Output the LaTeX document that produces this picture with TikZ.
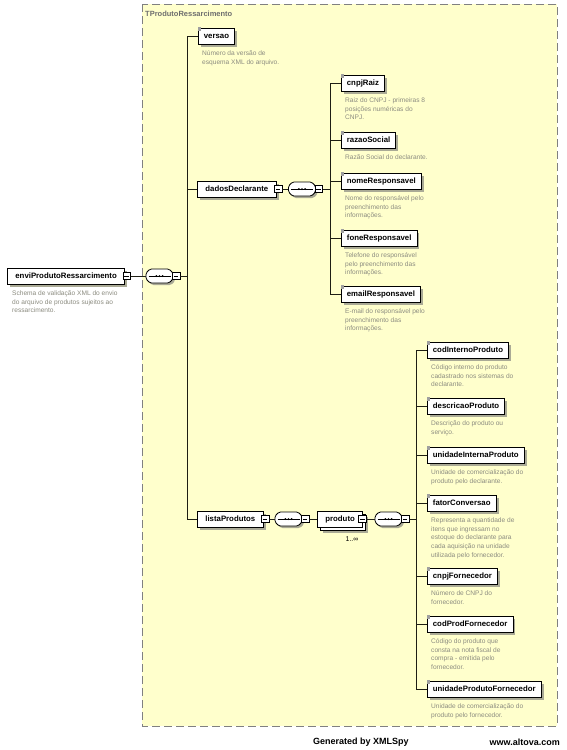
\documentclass[tikz,border=0pt]{standalone}
\usepackage{fontspec}
\setmainfont{Liberation Sans}
\usetikzlibrary{shadows}
\definecolor{bgyellow}{RGB}{255,255,204}
\definecolor{dashgray}{RGB}{128,128,128}
\definecolor{desccol}{RGB}{140,140,128}
\definecolor{titlecol}{RGB}{110,110,110}
\definecolor{shadowcol}{RGB}{170,170,150}
\definecolor{linecol}{RGB}{30,30,20}
\tikzset{
  elem/.style={draw=black, line width=0.8pt, fill=white, rectangle, anchor=west,
    minimum height=16pt, inner xsep=5.5pt, inner ysep=0pt,
    font=\fontsize{7.8}{9}\selectfont\bfseries,
    drop shadow={shadow xshift=2.5pt, shadow yshift=-2.5pt, fill=shadowcol, opacity=1}},
  parent/.style={elem, inner xsep=8pt},
  multi/.style={draw=black, line width=0.8pt, fill=white, rectangle, anchor=west,
    minimum height=16pt, inner xsep=8pt, inner ysep=0pt,
    font=\fontsize{7.8}{9}\selectfont\bfseries,
    drop shadow={shadow xshift=5.5pt, shadow yshift=-5.5pt, fill=shadowcol, opacity=1},
    copy shadow={shadow xshift=3pt, shadow yshift=-3pt}},
  desc/.style={anchor=north west, inner sep=0pt, align=left, text=desccol,
    font=\fontsize{6.6}{8.7}\selectfont},
  minusbox/.style={draw=black, line width=0.6pt, fill=white, rectangle,
    minimum size=7.5pt, inner sep=0pt,
    path picture={\draw[line width=0.6pt] ([xshift=1.5pt]path picture bounding box.west) -- ([xshift=-1.5pt]path picture bounding box.east);}},
  seqbox/.style={rectangle, minimum width=27pt, minimum height=14pt, inner sep=0pt},
  conn/.style={draw=linecol, line width=0.8pt},
}
\begin{document}
\begin{tikzpicture}[x=1pt,y=-1pt]
\useasboundingbox[fill=white] (0,0) rectangle (567,750);
% container
\draw[dash pattern=on 8pt off 4pt, draw=dashgray, fill=bgyellow, line width=0.8pt] (142,4) rectangle (557,726);
\node[anchor=west, font=\fontsize{7.5}{9}\selectfont\bfseries, text=titlecol, inner sep=0pt] (title) at (145,14) {TProdutoRessarcimento};

% root
\node[parent] (envi) at (7,276) {enviProdutoRessarcimento};
\node[minusbox] (me) at ([xshift=1.5pt]envi.east) {};
\node[desc] (denvi) at ([shift={(5,14.5)}]envi.west) {Schema de validação XML do envio\\do arquivo de produtos sujeitos ao\\ressarcimento.};
\node[seqbox] (s1) at (159.5,276) {};
\coordinate (b1) at (187,276);

% level 1
\node[elem] (versao) at (198,36) {versao};
\node[desc] (dversao) at ([shift={(4,14.5)}]versao.west) {Número da versão de\\esquema XML do arquivo.};
\node[parent] (dados) at (197,189) {dadosDeclarante};
\node[minusbox] (md) at ([xshift=1.5pt]dados.east) {};
\node[seqbox] (s2) at (302,189) {};
\coordinate (b2) at (330,189);
\node[parent] (lista) at (197,519) {listaProdutos};
\node[minusbox] (ml) at ([xshift=1.5pt]lista.east) {};
\node[seqbox] (s3) at (288.5,519) {};
\node[multi] (produto) at (317,519) {produto};
\node[minusbox] (mp) at ([xshift=-1pt]produto.east) {};
\node[font=\fontsize{7}{8}\selectfont, inner sep=0pt] (mult) at (352,539) {1..∞};
\node[seqbox] (s4) at (388.5,519) {};
\coordinate (b3) at (416,519);

% sequence compositor glyphs (octagon, line, dots)
\foreach \s in {s1,s2,s3,s4}{
  \begin{scope}[shift={(\s.center)}]
    \fill[shadowcol, rounded corners=1.5pt] (-11.5,-1) -- (-7.5,-5) -- (11.5,-5) -- (15.5,-1) -- (15.5,5) -- (11.5,9) -- (-7.5,9) -- (-11.5,5) -- cycle;
    \draw[line width=0.8pt, fill=white, rounded corners=1.5pt] (-13.5,-3) -- (-9.5,-7) -- (9.5,-7) -- (13.5,-3) -- (13.5,3) -- (9.5,7) -- (-9.5,7) -- (-13.5,3) -- cycle;
    \draw[line width=0.8pt] (-11,0) -- (11,0);
    \foreach \d in {-3.2,0,3.2} \fill (\d,0) circle (1pt);
  \end{scope}
}
\node[minusbox] (ms1) at ([xshift=3pt]s1.east) {};
\node[minusbox] (ms2) at ([xshift=3pt]s2.east) {};
\node[minusbox] (ms3) at ([xshift=3pt]s3.east) {};
\node[minusbox] (ms4) at ([xshift=3pt]s4.east) {};

% level 2 (dadosDeclarante)
\node[elem] (cnpj) at (341,83) {cnpjRaiz};
\node[desc] (dcnpj) at ([shift={(4,14.5)}]cnpj.west) {Raiz do CNPJ - primeiras 8\\posições numéricas do\\CNPJ.};
\node[elem] (razao) at (341,140) {razaoSocial};
\node[desc] (drazao) at ([shift={(4,14.5)}]razao.west) {Razão Social do declarante.};
\node[elem] (nome) at (341,181) {nomeResponsavel};
\node[desc] (dnome) at ([shift={(4,14.5)}]nome.west) {Nome do responsável pelo\\preenchimento das\\informações.};
\node[elem] (fone) at (341,238) {foneResponsavel};
\node[desc] (dfone) at ([shift={(4,14.5)}]fone.west) {Telefone do responsável\\pelo preenchimento das\\informações.};
\node[elem] (email) at (341,294) {emailResponsavel};
\node[desc] (demail) at ([shift={(4,14.5)}]email.west) {E-mail do responsável pelo\\preenchimento das\\informações.};

% level 3 (produto)
\node[elem] (codint) at (427,350) {codInternoProduto};
\node[desc] (dcodint) at ([shift={(4,14.5)}]codint.west) {Código interno do produto\\cadastrado nos sistemas do\\declarante.};
\node[elem] (descr) at (427,406) {descricaoProduto};
\node[desc] (ddescr) at ([shift={(4,14.5)}]descr.west) {Descrição do produto ou\\serviço.};
\node[elem] (unint) at (427,455) {unidadeInternaProduto};
\node[desc] (dunint) at ([shift={(4,14.5)}]unint.west) {Unidade de comercialização do\\produto pelo declarante.};
\node[elem] (fator) at (427,503) {fatorConversao};
\node[desc] (dfator) at ([shift={(4,14.5)}]fator.west) {Representa a quantidade de\\itens que ingressam no\\estoque do declarante para\\cada aquisição na unidade\\utilizada pelo fornecedor.};
\node[elem] (cnpjf) at (427,576) {cnpjFornecedor};
\node[desc] (dcnpjf) at ([shift={(4,14.5)}]cnpjf.west) {Número de CNPJ do\\fornecedor.};
\node[elem] (codprod) at (427,624) {codProdFornecedor};
\node[desc] (dcodprod) at ([shift={(4,14.5)}]codprod.west) {Código do produto que\\consta na nota fiscal de\\compra - emitida pelo\\fornecedor.};
\node[elem] (unprod) at (427,689) {unidadeProdutoFornecedor};
\node[desc] (dunprod) at ([shift={(4,14.5)}]unprod.west) {Unidade de comercialização do\\produto pelo fornecedor.};

% leaf icons
\foreach \n in {versao,cnpj,razao,nome,fone,email,codint,descr,unint,fator,cnpjf,codprod,unprod}
  \fill[gray!75] ([shift={(-0.5,-0.5)}]\n.north west) rectangle ++(3.5,3.5);

% connectors
\draw[conn] (me.east) -- (s1.west);
\draw[conn] (ms1.east) -- (b1);
\draw[conn] (versao.west) -- (versao.west -| b1) -- (lista.west -| b1) -- (lista.west);
\draw[conn] (dados.west) -- (dados.west -| b1);
\draw[conn] (md.east) -- (s2.west);
\draw[conn] (ms2.east) -- (b2);
\draw[conn] (cnpj.west) -- (cnpj.west -| b2) -- (email.west -| b2) -- (email.west);
\foreach \n in {razao,nome,fone} \draw[conn] (\n.west) -- (\n.west -| b2);
\draw[conn] (ml.east) -- (s3.west);
\draw[conn] (ms3.east) -- (produto.west);
\draw[conn] (mp.east) -- (s4.west);
\draw[conn] (ms4.east) -- (b3);
\draw[conn] (codint.west) -- (codint.west -| b3) -- (unprod.west -| b3) -- (unprod.west);
\foreach \n in {descr,unint,fator,cnpjf,codprod} \draw[conn] (\n.west) -- (\n.west -| b3);

% footer
\node[anchor=west, font=\fontsize{9}{10}\selectfont\bfseries, inner sep=0pt] (gen) at (313,742) {Generated by XMLSpy};
\node[anchor=east, font=\fontsize{9}{10}\selectfont\bfseries, inner sep=0pt] (alt) at (560,742) {www.altova.com};
\end{tikzpicture}
\end{document}
